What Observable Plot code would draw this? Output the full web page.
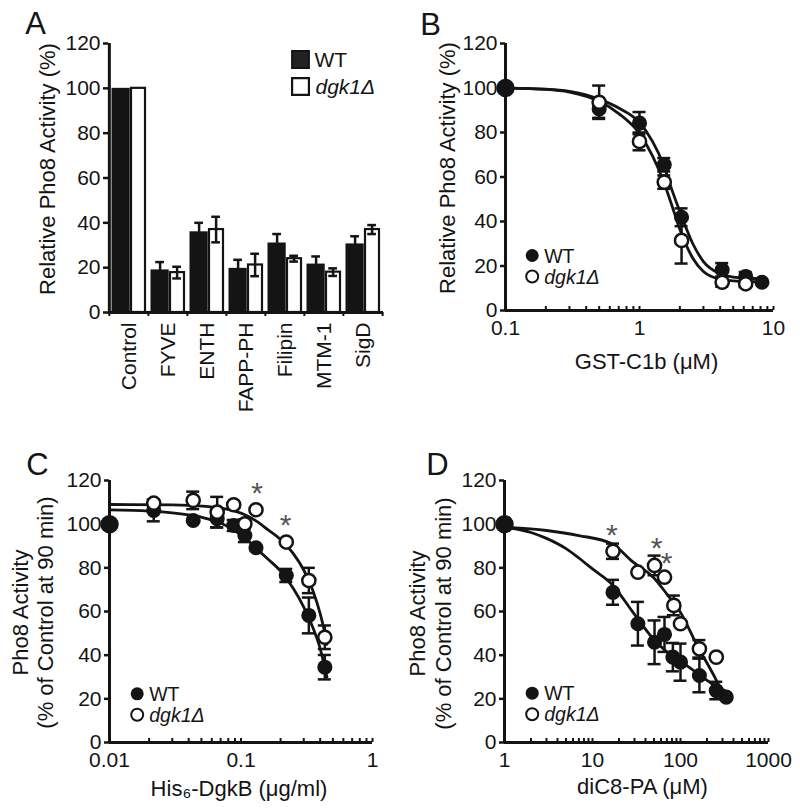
<!DOCTYPE html>
<html><head><meta charset="utf-8">
<script src="https://cdn.jsdelivr.net/npm/d3@7"></script>
<script src="https://cdn.jsdelivr.net/npm/@observablehq/plot@0.6"></script>
<style>
body{margin:0;background:#fff;}
#wrap{position:relative;width:800px;height:811px;overflow:hidden;background:#fff;}
</style></head><body><div id="wrap"></div>
<script>
// ---------- Panel A data ----------
const aCategories = ["Control","FYVE","ENTH","FAPP-PH","Filipin","MTM-1","SigD"];
const aWT     = [100, 19, 36, 19.7, 31, 21.6, 30.6];
const aWTErr  = [0, 3.5, 4, 3.8, 4, 3.4, 3.4];
const aDgk    = [100, 17.8, 37, 21.2, 24, 18, 37];
const aDgkErr = [0, 2.6, 5.7, 5, 1.3, 1.7, 2];
const yTicks  = [0, 20, 40, 60, 80, 100, 120];

// ---------- Panel B data ----------
const bControl = [0.1, 100];
const bDoseWT  = [0.5, 1.0, 1.53, 2.06, 4.14, 6.2, 8.2];
const bWT      = [90.6, 84.2, 65.5, 41.9, 18.3, 15.3, 12.7];
const bWTErr   = [4, 5, 3, 4, 3, 2, 0];
const bDoseDgk = [0.5, 1.0, 1.53, 2.06, 4.14, 6.2];
const bDgk     = [93.6, 76, 57.7, 31.5, 12.7, 12];
const bDgkErr  = [7.5, 4, 3, 10.4, 2, 1.5];
const bCurveWT  = [[0.1,100],[0.2,99.5],[0.3,98.5],[0.5,95],[0.7,91],[1,84.5],[1.25,76],[1.5,66],[1.75,54],[2,44.5],[2.5,30],[3,22],[4,16.5],[5,15],[6.5,14.5],[8,14.3]];
const bCurveDgk = [[0.1,100],[0.2,99.4],[0.3,98.2],[0.5,94],[0.7,88.5],[1,79.5],[1.25,69.5],[1.5,58.5],[1.75,47],[2,36.5],[2.5,23.5],[3,17.5],[4,14],[5,13.3],[6.5,13],[8,13]];
const bMajors = [0.1, 1, 10];
const bMinors = [0.2,0.3,0.4,0.5,0.6,0.7,0.8,0.9,2,3,4,5,6,7,8,9];

// ---------- Panel C data ----------
const cControl = [0.01, 100];
const cDose    = [0.0217, 0.0433, 0.0659, 0.088, 0.107, 0.130, 0.221, 0.328, 0.434];
const cWT      = [106.3, 101.7, 102.5, 99.4, 94.8, 89.2, 76.5, 58.2, 34.5];
const cWTErr   = [5, 0, 4, 2.5, 3, 0, 3, 8.2, 5.6];
const cDgk     = [109.6, 110.9, 105.5, 108.9, 100.2, 106.6, 91.8, 74.2, 48.2];
const cDgkErr  = [0, 4, 7, 0, 2, 0, 0, 5.8, 5.4];
const cCurveWT  = [[0.01,106.5],[0.02,106],[0.03,105.2],[0.05,103.2],[0.07,100.5],[0.09,97],[0.11,93.2],[0.13,89],[0.16,84],[0.2,78.5],[0.25,70.5],[0.3,62],[0.35,53],[0.4,43],[0.45,30]];
const cCurveDgk = [[0.01,109],[0.03,108.8],[0.05,108.3],[0.07,107.4],[0.09,106],[0.11,104],[0.13,101.5],[0.16,97.5],[0.2,93],[0.25,86.5],[0.3,79],[0.35,70],[0.4,59],[0.434,50],[0.45,45]];
const cStarX = [0.1328, 0.218];
const cStarY = [117.7, 102.9];
const cMajors = [0.01, 0.1, 1];
const cMinors = [0.02,0.03,0.04,0.05,0.06,0.07,0.08,0.09,0.2,0.3,0.4,0.5,0.6,0.7,0.8,0.9];

// ---------- Panel D data ----------
const dControl = [1, 100];
const dDoseWT  = [17.1, 32.8, 50.7, 65.8, 81.9, 100, 164, 255, 331];
const dWT      = [68.8, 54.4, 45.9, 49.5, 39.1, 36.8, 30.7, 23.8, 20.8];
const dWTErr   = [5.7, 10, 10, 8, 6.5, 8.5, 7.7, 4, 0];
const dDoseDgk = [17.1, 32.8, 50.7, 65.8, 84, 100, 164, 255];
const dDgk     = [87.6, 78, 81.1, 75.7, 62.8, 54.4, 42.9, 39.1];
const dDgkErr  = [3.5, 0, 4.5, 0, 4.5, 0, 4, 0];
const dCurveWT  = [[1,98.6],[2,96.2],[3,93.5],[5,88.8],[7,84.5],[10,79.5],[16.6,72.5],[29,59.5],[49,47.5],[70,41.5],[97,37.6],[158,31.5],[245,26.1],[330,23.5]];
const dCurveDgk = [[1,98.6],[3,97.1],[7,94.8],[16.6,91],[29,82.6],[49,75.7],[70,68],[97,60.5],[158,43.7],[245,29.9],[303,22.3]];
const dStarX = [16.6, 53.6, 69.6];
const dStarY = [98.6, 92.5, 85.7];
const dMajors = [1, 10, 100, 1000];
const dMinors = [2,3,4,5,6,7,8,9,20,30,40,50,60,70,80,90,200,300,400,500,600,700,800,900];

// ---------- rendering ----------
const FONT = '"Liberation Sans", Arial, Helvetica, sans-serif';
const INK = "#141414";
const wrap = document.getElementById("wrap");

function place(el, left, top) {
  el.style.position = "absolute";
  el.style.left = left + "px";
  el.style.top = top + "px";
  wrap.appendChild(el);
}
const baseStyle = {background: "transparent", overflow: "visible", fontFamily: FONT, color: INK};

// Panel A
{
  const W = 400, H = 420, mL = 108, mR = 17, mT = 43, mB = 108;
  const bw = (W - mL - mR) / aCategories.length;
  const rows = aCategories.map((c, i) => ({cat: c, wt: aWT[i], wtErr: aWTErr[i], dgk: aDgk[i], dgkErr: aDgkErr[i]}));
  const eW = rows.filter(d => d.wtErr > 0);
  const eD = rows.filter(d => d.dgkErr > 0);
  const wtC = 11.75, dgC = 28.75, cap = 4.5;
  const el = Plot.plot({
    width: W, height: H, marginLeft: mL, marginRight: mR, marginTop: mT, marginBottom: mB,
    style: baseStyle,
    x: {type: "band", domain: aCategories, padding: 0},
    y: {domain: [0, 120]},
    marks: [
      Plot.barY(rows, {x: "cat", y: "wt", fill: INK, insetLeft: 2.5, insetRight: bw - 21}),
      Plot.barY(rows, {x: "cat", y: "dgk", fill: "white", stroke: INK, strokeWidth: 2.2, insetLeft: 22, insetRight: 3}),
      Plot.ruleX(eW, {x: "cat", y1: d => d.wt - d.wtErr, y2: d => d.wt + d.wtErr, dx: wtC - bw / 2, stroke: INK, strokeWidth: 2.5}),
      Plot.tickY(eW, {x: "cat", y: d => d.wt + d.wtErr, insetLeft: wtC - cap, insetRight: bw - wtC - cap, stroke: INK, strokeWidth: 2.5}),
      Plot.tickY(eW, {x: "cat", y: d => d.wt - d.wtErr, insetLeft: wtC - cap, insetRight: bw - wtC - cap, stroke: INK, strokeWidth: 2.5}),
      Plot.ruleX(eD, {x: "cat", y1: d => d.dgk - d.dgkErr, y2: d => d.dgk + d.dgkErr, dx: dgC - bw / 2, stroke: INK, strokeWidth: 2.5}),
      Plot.tickY(eD, {x: "cat", y: d => d.dgk + d.dgkErr, insetLeft: dgC - cap, insetRight: bw - dgC - cap, stroke: INK, strokeWidth: 2.5}),
      Plot.tickY(eD, {x: "cat", y: d => d.dgk - d.dgkErr, insetLeft: dgC - cap, insetRight: bw - dgC - cap, stroke: INK, strokeWidth: 2.5}),
      Plot.ruleY([0], {stroke: INK, strokeWidth: 3}),
      Plot.ruleX([aCategories[0]], {dx: -bw / 2, stroke: INK, strokeWidth: 3}),
      Plot.ruleX(aCategories, {dx: -bw / 2, y1: 0, y2: 0, insetBottom: -4, stroke: INK, strokeWidth: 2}),
      Plot.ruleX([aCategories[aCategories.length - 1]], {dx: bw / 2, y1: 0, y2: 0, insetBottom: -4, stroke: INK, strokeWidth: 2}),
      Plot.axisY({ticks: yTicks, tickSize: 5, tickPadding: 3, fontSize: 21, strokeWidth: 2.5, label: null, fill: INK}),
      Plot.axisX({tickSize: 0, tickPadding: 10, tickRotate: -90, fontSize: 21, label: null, fill: INK}),
      Plot.text(["Relative Pho8 Activity (%)"], {text: d => d, frameAnchor: "left", rotate: -90, dx: -61, dy: -9, fontSize: 22, fill: INK, textAnchor: "middle", lineAnchor: "middle"}),
      Plot.dot(["WT"], {frameAnchor: "top-left", dx: 192, dy: 16, symbol: "square", r: 9.5, fill: "#222", stroke: INK, strokeWidth: 2}),
      Plot.dot(["dgk1Δ"], {frameAnchor: "top-left", dx: 192, dy: 43, symbol: "square", r: 9.5, fill: "white", stroke: INK, strokeWidth: 2.2}),
      Plot.text(["WT"], {text: d => d, frameAnchor: "top-left", dx: 206, dy: 17, textAnchor: "start", lineAnchor: "middle", fontSize: 21, fill: INK}),
      Plot.text(["dgk1Δ"], {text: d => d, frameAnchor: "top-left", dx: 207, dy: 44, textAnchor: "start", lineAnchor: "middle", fontSize: 21, fontStyle: "italic", fill: INK}),
      Plot.text(["A"], {text: d => d, frameAnchor: "top-left", dx: -73, dy: -19, fontSize: 31, textAnchor: "middle", lineAnchor: "middle", fill: INK})
    ]
  });
  place(el, 0, 0);
}

function scatter(cfg) {
  const wtRows = cfg.wtDose.map((x, i) => ({x, y: cfg.wtVal[i], e: cfg.wtErr[i]}));
  const dgRows = cfg.dgDose.map((x, i) => ({x, y: cfg.dgVal[i], e: cfg.dgErr[i]}));
  const errRows = wtRows.concat(dgRows).filter(d => d.e > 0);
  const ctrlRows = [{x: cfg.ctrl[0], y: cfg.ctrl[1]}];
  const starRows = (cfg.starX || []).map((x, i) => ({x, y: cfg.starY[i]}));
  const [lx, ly] = cfg.legend;
  const marks = [
    Plot.line(cfg.curveWT, {x: d => d[0], y: d => d[1], curve: "monotone-x", stroke: INK, strokeWidth: 2.8}),
    Plot.line(cfg.curveDg, {x: d => d[0], y: d => d[1], curve: "monotone-x", stroke: INK, strokeWidth: 2.8}),
    Plot.ruleX(errRows, {x: "x", y1: d => d.y - d.e, y2: d => d.y + d.e, stroke: INK, strokeWidth: 2.5}),
    Plot.ruleY(errRows, {y: d => d.y + d.e, x1: "x", x2: "x", insetLeft: -6.5, insetRight: -6.5, stroke: INK, strokeWidth: 2.5}),
    Plot.ruleY(errRows, {y: d => d.y - d.e, x1: "x", x2: "x", insetLeft: -6.5, insetRight: -6.5, stroke: INK, strokeWidth: 2.5}),
    Plot.ruleY([0], {stroke: INK, strokeWidth: 3}),
    Plot.ruleX([cfg.xDomain[0]], {stroke: INK, strokeWidth: 3}),
    Plot.axisY({ticks: yTicks, tickSize: 5, tickPadding: 3, fontSize: 21, strokeWidth: 2.5, label: null, fill: INK}),
    Plot.axisX({ticks: cfg.majors.concat(cfg.minors), tickSize: 4, dy: -4, tickFormat: () => "", strokeWidth: 2, label: null}),
    Plot.axisX({ticks: cfg.majors, tickSize: 0, tickPadding: 10, fontSize: 21, tickFormat: d => `${d}`, label: null, fill: INK}),
    Plot.dot(ctrlRows, {x: "x", y: "y", r: 8.5, fill: INK, stroke: INK}),
    Plot.dot(wtRows, {x: "x", y: "y", r: 6.8, fill: INK, stroke: INK}),
    Plot.dot(dgRows, {x: "x", y: "y", r: 6.6, fill: "white", stroke: INK, strokeWidth: 2.5}),
    Plot.text(starRows, {x: "x", y: "y", text: () => "*", fontSize: 30, fill: "#555", dy: 8}),
    Plot.dot(["WT"], {frameAnchor: "top-left", dx: lx, dy: ly, r: 6.5, fill: INK}),
    Plot.dot(["dgk1Δ"], {frameAnchor: "top-left", dx: lx, dy: ly + 21, r: 6, fill: "white", stroke: INK, strokeWidth: 2}),
    Plot.text(["WT"], {text: d => d, frameAnchor: "top-left", dx: lx + 12, dy: ly + 1, textAnchor: "start", lineAnchor: "middle", fontSize: 19.5, fill: INK}),
    Plot.text(["dgk1Δ"], {text: d => d, frameAnchor: "top-left", dx: lx + 12, dy: ly + 22, textAnchor: "start", lineAnchor: "middle", fontSize: 19.5, fontStyle: "italic", fill: INK}),
    Plot.text([cfg.xLabel], {text: d => d, frameAnchor: "bottom", dx: cfg.xLabelD[0], dy: cfg.xLabelD[1], fontSize: 22, textAnchor: "middle", lineAnchor: "middle", fill: INK}),
    Plot.text([cfg.letter], {text: d => d, frameAnchor: "top-left", dx: cfg.letterD[0], dy: cfg.letterD[1], fontSize: 31, textAnchor: "middle", lineAnchor: "middle", fill: INK})
  ];
  cfg.yLabels.forEach((t, i) => {
    marks.push(Plot.text([t], {text: d => d, frameAnchor: "left", rotate: -90, dx: cfg.yLabelDx[i], dy: cfg.yLabelDy, fontSize: 22, textAnchor: "middle", lineAnchor: "middle", fill: INK}));
  });
  const el = Plot.plot({
    width: cfg.W, height: cfg.H, marginLeft: cfg.m[0], marginRight: cfg.m[1], marginTop: cfg.m[2], marginBottom: cfg.m[3],
    style: baseStyle,
    x: {type: "log", domain: cfg.xDomain},
    y: {domain: [0, 120]},
    marks
  });
  place(el, cfg.left, cfg.top);
}

scatter({
  left: 400, top: 0, W: 400, H: 380, m: [105, 27, 43, 70], xDomain: [0.1, 10],
  majors: bMajors, minors: bMinors,
  ctrl: bControl, wtDose: bDoseWT, wtVal: bWT, wtErr: bWTErr, dgDose: bDoseDgk, dgVal: bDgk, dgErr: bDgkErr,
  curveWT: bCurveWT, curveDg: bCurveDgk,
  legend: [26.7, 212],
  xLabel: "GST-C1b (μM)", xLabelD: [7, 51],
  yLabels: ["Relative Pho8 Activity (%)"], yLabelDx: [-58], yLabelDy: -9,
  letter: "B", letterD: [-75, -18]
});

scatter({
  left: 0, top: 400, W: 400, H: 411, m: [109, 28, 80, 69], xDomain: [0.01, 1],
  majors: cMajors, minors: cMinors,
  ctrl: cControl, wtDose: cDose, wtVal: cWT, wtErr: cWTErr, dgDose: cDose, dgVal: cDgk, dgErr: cDgkErr,
  curveWT: cCurveWT, curveDg: cCurveDgk, starX: cStarX, starY: cStarY,
  legend: [27.7, 213.3],
  xLabel: "His₆-DgkB (μg/ml)", xLabelD: [-2, 46],
  yLabels: ["Pho8 Activity", "(% of Control at 90 min)"], yLabelDx: [-89, -64], yLabelDy: 1,
  letter: "C", letterD: [-72, -15]
});

scatter({
  left: 400, top: 400, W: 400, H: 411, m: [104, 32, 80, 69], xDomain: [1, 1000],
  majors: dMajors, minors: dMinors,
  ctrl: dControl, wtDose: dDoseWT, wtVal: dWT, wtErr: dWTErr, dgDose: dDoseDgk, dgVal: dDgk, dgErr: dDgkErr,
  curveWT: dCurveWT, curveDg: dCurveDgk, starX: dStarX, starY: dStarY,
  legend: [27.7, 212.7],
  xLabel: "diC8-PA (μM)", xLabelD: [6, 44],
  yLabels: ["Pho8 Activity", "(% of Control at 90 min)"], yLabelDx: [-87, -61], yLabelDy: 2,
  letter: "D", letterD: [-67, -15]
});
</script>
</body></html>
